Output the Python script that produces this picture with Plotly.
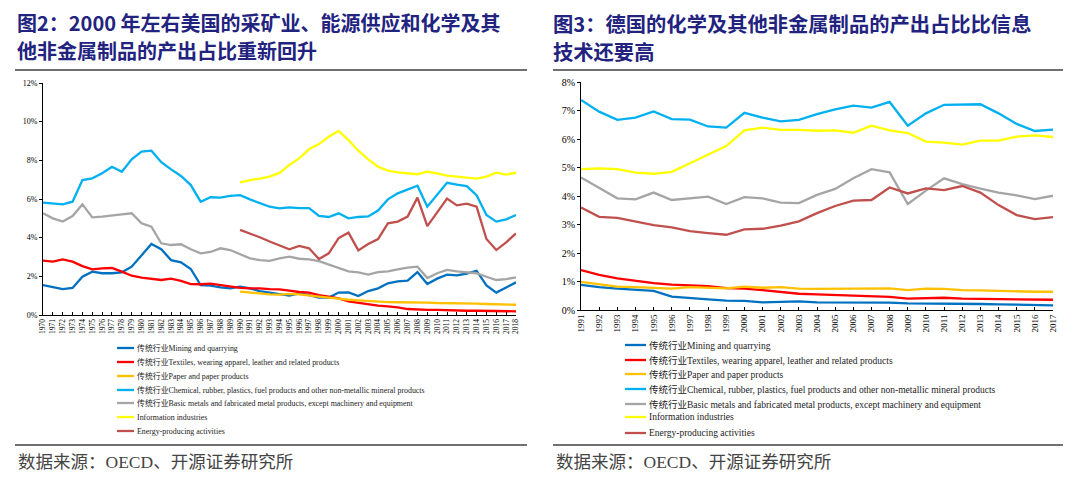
import plotly.graph_objects as go

W, H = 1072, 471          # figure size (page body adds an 8px margin)
OFF = 8

# ---------------- data: US (left) ----------------
us_years = list(range(1970, 2019))
us_mining = [1.55, 1.45, 1.34, 1.40, 1.98, 2.24, 2.16, 2.16, 2.21, 2.50,
             3.10, 3.67, 3.40, 2.84, 2.72, 2.38, 1.55, 1.52, 1.43, 1.38,
             1.47, 1.38, 1.24, 1.16, 1.09, 1.00, 1.12, 1.03, 0.90, 0.90,
             1.16, 1.17, 0.98, 1.24, 1.38, 1.64, 1.74, 1.78, 2.22, 1.60,
             1.88, 2.09, 2.05, 2.14, 2.29, 1.53, 1.16, 1.43, 1.69]
us_textiles = [2.81, 2.76, 2.88, 2.76, 2.53, 2.36, 2.41, 2.43, 2.24, 2.03,
               1.93, 1.86, 1.81, 1.88, 1.76, 1.60, 1.59, 1.62, 1.55, 1.47,
               1.40, 1.38, 1.38, 1.34, 1.33, 1.26, 1.19, 1.16, 1.03, 0.95,
               0.86, 0.71, 0.64, 0.55, 0.48, 0.45, 0.40, 0.31, 0.28, 0.26,
               0.26, 0.24, 0.22, 0.22, 0.22, 0.21, 0.21, 0.19, 0.19]
us_paper = [None] * 20 + [1.21, 1.16, 1.10, 1.07, 1.05, 1.09, 1.07, 1.00, 0.95, 0.90,
                          0.84, 0.79, 0.76, 0.72, 0.69, 0.67, 0.66, 0.66, 0.64, 0.64,
                          0.62, 0.62, 0.60, 0.60, 0.59, 0.57, 0.55, 0.53, 0.53]
us_chemical = [5.81, 5.78, 5.72, 5.86, 6.98, 7.07, 7.33, 7.67, 7.41, 8.05,
               8.45, 8.50, 7.90, 7.53, 7.19, 6.72, 5.86, 6.09, 6.07, 6.16,
               6.20, 5.98, 5.78, 5.60, 5.52, 5.57, 5.53, 5.53, 5.12, 5.07,
               5.26, 5.00, 5.07, 5.10, 5.40, 5.98, 6.29, 6.50, 6.69, 5.60,
               6.24, 6.84, 6.74, 6.67, 6.20, 5.17, 4.83, 4.95, 5.17]
us_metals = [5.26, 5.00, 4.83, 5.12, 5.72, 5.05, 5.09, 5.16, 5.21, 5.26,
             4.74, 4.57, 3.71, 3.62, 3.66, 3.40, 3.19, 3.26, 3.45, 3.36,
             3.16, 2.93, 2.84, 2.80, 2.93, 3.02, 2.91, 2.88, 2.79, 2.62,
             2.47, 2.26, 2.21, 2.09, 2.22, 2.26, 2.36, 2.45, 2.50, 1.91,
             2.16, 2.33, 2.26, 2.21, 2.16, 1.98, 1.81, 1.86, 1.95]
us_info = [None] * 20 + [6.86, 6.98, 7.05, 7.16, 7.35, 7.76, 8.10, 8.57, 8.84, 9.22,
                         9.52, 9.05, 8.50, 8.05, 7.67, 7.47, 7.38, 7.33, 7.28, 7.41,
                         7.33, 7.21, 7.16, 7.09, 7.05, 7.16, 7.36, 7.26, 7.36]
us_energy = [None] * 20 + [4.40, 4.22, 4.02, 3.80, 3.59, 3.40, 3.57, 3.45, 2.90, 3.19,
                           3.98, 4.26, 3.34, 3.67, 3.93, 4.74, 4.83, 5.09, 6.07, 4.60,
                           5.31, 6.02, 5.67, 5.76, 5.60, 3.93, 3.36, 3.76, 4.22]

# ---------------- data: Germany (right) ----------------
de_years = list(range(1991, 2018))
de_mining = [0.88, 0.80, 0.75, 0.70, 0.67, 0.47, 0.41, 0.37, 0.33, 0.32,
             0.27, 0.28, 0.30, 0.27, 0.27, 0.27, 0.26, 0.26, 0.23, 0.23,
             0.23, 0.22, 0.21, 0.20, 0.19, 0.16, 0.16]
de_textiles = [1.40, 1.23, 1.11, 1.02, 0.94, 0.89, 0.87, 0.84, 0.77, 0.75,
               0.70, 0.63, 0.57, 0.55, 0.53, 0.51, 0.50, 0.46, 0.40, 0.42,
               0.43, 0.40, 0.39, 0.40, 0.37, 0.36, 0.36]
de_paper = [0.99, 0.90, 0.82, 0.80, 0.78, 0.75, 0.80, 0.78, 0.76, 0.82,
            0.78, 0.80, 0.75, 0.74, 0.74, 0.75, 0.76, 0.76, 0.70, 0.75,
            0.74, 0.70, 0.69, 0.67, 0.65, 0.64, 0.64]
de_chemical = [7.37, 6.96, 6.67, 6.75, 6.97, 6.70, 6.68, 6.44, 6.40, 6.92,
               6.75, 6.62, 6.67, 6.87, 7.04, 7.17, 7.10, 7.30, 6.47, 6.90,
               7.20, 7.22, 7.22, 6.90, 6.53, 6.28, 6.33]
de_metals = [4.65, 4.30, 3.92, 3.88, 4.12, 3.86, 3.92, 3.98, 3.72, 3.96,
             3.92, 3.77, 3.75, 4.04, 4.25, 4.62, 4.94, 4.83, 3.72, 4.19,
             4.62, 4.42, 4.26, 4.12, 4.02, 3.89, 4.01]
de_info = [4.94, 4.97, 4.94, 4.82, 4.78, 4.85, 5.15, 5.46, 5.75, 6.30,
           6.40, 6.32, 6.32, 6.29, 6.30, 6.22, 6.47, 6.30, 6.21, 5.91,
           5.87, 5.80, 5.94, 5.94, 6.08, 6.13, 6.07]
de_energy = [3.60, 3.27, 3.23, 3.10, 2.98, 2.90, 2.77, 2.70, 2.64, 2.83,
             2.85, 2.96, 3.11, 3.40, 3.65, 3.84, 3.86, 4.30, 4.09, 4.27,
             4.21, 4.35, 4.12, 3.68, 3.33, 3.19, 3.26]

series_names = [
    "传统行业Mining and quarrying",
    "传统行业Textiles, wearing apparel, leather and related products",
    "传统行业Paper and paper products",
    "传统行业Chemical, rubber, plastics, fuel products and other non-metallic mineral products",
    "传统行业Basic metals and fabricated metal products, except machinery and equipment",
    "Information industries",
    "Energy-producing activities",
]
series_colors = ["#0070C0", "#FF0000", "#FFC000", "#00B0F0", "#A5A5A5", "#FFFF00", "#C0504D"]

us_series = [us_mining, us_textiles, us_paper, us_chemical, us_metals, us_info, us_energy]
de_series = [de_mining, de_textiles, de_paper, de_chemical, de_metals, de_info, de_energy]

us_yticks = [0, 2, 4, 6, 8, 10, 12]
de_yticks = [0, 1, 2, 3, 4, 5, 6, 7, 8]

left_title = ["图2：2000 年左右美国的采矿业、能源供应和化学及其", "他非金属制品的产出占比重新回升"]
right_title = ["图3：德国的化学及其他非金属制品的产出占比比信息", "技术还要高"]
source_text = "数据来源：OECD、开源证券研究所"

# ---------------- figure ----------------
def px(x):
    return (x - OFF) / W

def py(y):
    return 1 - (y - OFF) / H

SERIF = "Liberation Serif, Noto Sans CJK SC"
fig = go.Figure()

for vals, name, col in zip(us_series, series_names, series_colors):
    fig.add_trace(go.Scatter(x=us_years, y=vals, mode="lines", name=name,
                             line=dict(color=col, width=2.3), xaxis="x", yaxis="y",
                             showlegend=False))
for vals, name, col in zip(de_series, series_names, series_colors):
    fig.add_trace(go.Scatter(x=de_years, y=vals, mode="lines", name=name,
                             line=dict(color=col, width=2.3), xaxis="x2", yaxis="y2",
                             showlegend=False))

axis_common = dict(showgrid=False, zeroline=False, showline=True, linecolor="#000000",
                   linewidth=1, color="#000000", automargin=False)

fig.update_layout(
    width=W, height=H, margin=dict(l=0, r=0, t=0, b=0),
    paper_bgcolor="white", plot_bgcolor="white", showlegend=False,
    xaxis=dict(domain=[px(43), px(516)], range=[1970, 2018], anchor="y",
               tickvals=us_years, ticktext=[str(v) for v in us_years],
               tickangle=-90, ticks="inside", ticklen=3, tickcolor="#000",
               tickfont=dict(family=SERIF, size=7.5, color="#000"), **axis_common),
    yaxis=dict(domain=[py(315), py(83)], range=[0, 12], anchor="x",
               tickvals=us_yticks, ticktext=[f"{v}%" for v in us_yticks],
               ticks="outside", ticklen=3,
               tickcolor="#000", tickfont=dict(family=SERIF, size=8, color="#000"),
               **axis_common),
    xaxis2=dict(domain=[px(581), px(1053)], range=[1991, 2017], anchor="y2",
                tickvals=de_years, ticktext=[str(v) for v in de_years],
                tickangle=-90, ticks="inside", ticklen=3, tickcolor="#000",
                tickfont=dict(family=SERIF, size=9, color="#000"), **axis_common),
    yaxis2=dict(domain=[py(310), py(82)], range=[0, 8], anchor="x2",
                tickvals=de_yticks, ticktext=[f"{v}%" for v in de_yticks],
                ticks="outside", ticklen=3,
                tickcolor="#000", tickfont=dict(family=SERIF, size=10, color="#000"),
                **axis_common),
)

shapes = []
annotations = []

TITLE_COLOR = "#22227F"
TITLE_FONT = "Noto Sans CJK SC"
for x0, lines, fs in ((16, left_title, 20), (552, right_title, 20.3)):
    for i, t in enumerate(lines):
        annotations.append(dict(x=px(x0), y=py(23 + 28 * i), xref="paper", yref="paper",
                                xanchor="left", yanchor="middle", showarrow=False,
                                borderpad=0,
                                text="<b>" + t + "</b>",
                                font=dict(family=TITLE_FONT, size=fs, color=TITLE_COLOR)))

for x0, x1 in ((15, 527), (553, 1063)):
    for yy in (70, 445):
        shapes.append(dict(type="line", xref="paper", yref="paper",
                           x0=px(x0), x1=px(x1), y0=py(yy), y1=py(yy),
                           line=dict(color="#404040", width=1.5)))
    annotations.append(dict(x=px(x0 + 1), y=py(462), xref="paper", yref="paper",
                            xanchor="left", yanchor="middle", showarrow=False,
                            text=source_text,
                            font=dict(family=SERIF, size=17.5, color="#444444")))

# manual legends
legend_specs = [
    dict(x0=117, x1=134, ys=[348, 362, 376, 390, 403, 417, 431], size=7.9),
    dict(x0=625, x1=646, ys=[345, 360, 374, 389, 404, 417, 433], size=9.5),
]
for spec in legend_specs:
    for name, col, yy in zip(series_names, series_colors, spec["ys"]):
        shapes.append(dict(type="line", xref="paper", yref="paper",
                           x0=px(spec["x0"]), x1=px(spec["x1"]), y0=py(yy), y1=py(yy),
                           line=dict(color=col, width=2.3)))
        annotations.append(dict(x=px(spec["x1"] + 1), y=py(yy), xref="paper", yref="paper",
                                xanchor="left", yanchor="middle", showarrow=False,
                                text=name,
                                font=dict(family=SERIF, size=spec["size"], color="#222222")))

fig.update_layout(shapes=shapes, annotations=annotations)
fig.write_html("out.html")
